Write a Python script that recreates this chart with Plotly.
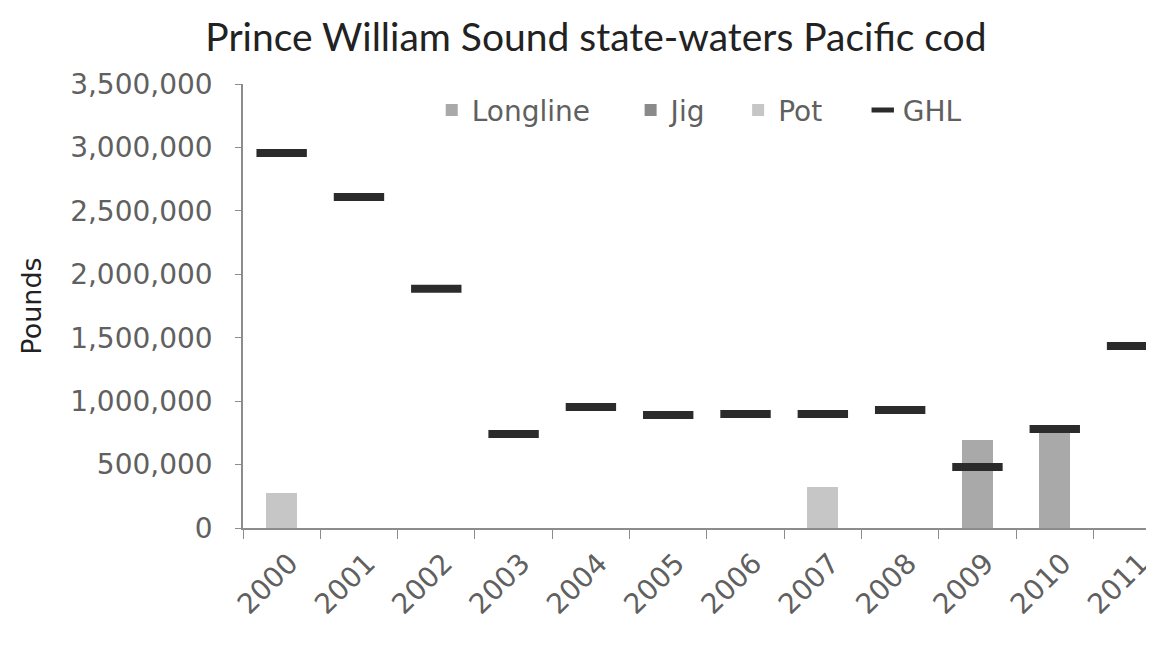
import plotly.graph_objects as go

years = ["2000", "2001", "2002", "2003", "2004", "2005", "2006", "2007", "2008", "2009", "2010", "2011"]
longline = [0, 0, 0, 0, 0, 0, 0, 0, 0, 694000, 765000, 0]
jig = [0, 0, 0, 0, 0, 0, 0, 0, 0, 0, 0, 0]
pot = [276000, 0, 0, 0, 0, 0, 0, 323000, 0, 0, 0, 0]
ghl = [2957000, 2610000, 1885000, 741000, 954000, 891000, 899000, 899000, 931000, 481000, 781000, 1435000]

tick_font = dict(family="DejaVu Sans", size=28, color="#606060")
nb = "\u00a0"

fig = go.Figure()
fig.add_trace(go.Bar(x=years, y=longline, name="Longline" + nb * 4, marker=dict(color="#a9a9a9", line=dict(width=0)), width=0.4))
fig.add_trace(go.Bar(x=years, y=jig, name="Jig" + nb * 3, marker=dict(color="#8a8a8a", line=dict(width=0)), width=0.4))
fig.add_trace(go.Bar(x=years, y=pot, name="Pot" + nb * 4, marker=dict(color="#c6c6c6", line=dict(width=0)), width=0.4))
fig.add_trace(go.Scatter(x=years, y=ghl, name="GHL", mode="markers", cliponaxis=False,
                         marker=dict(symbol="line-ew", size=36, color="#2b2b2b",
                                     line=dict(width=8, color="#2b2b2b"))))

fig.update_layout(
    width=1154, height=646,
    margin=dict(l=235, r=16, t=76, b=126, autoexpand=False),
    paper_bgcolor="white", plot_bgcolor="white",
    barmode="stack",
    showlegend=True,
    title=dict(text="Prince William Sound state-waters Pacific cod",
               font=dict(family="Lato", size=39, color="#222222"),
               x=0.5095, xref="container", xanchor="center",
               y=0.955, yref="container", yanchor="middle"),
    legend=dict(orientation="h", traceorder="normal", x=0.209, xanchor="left", y=0.941, yanchor="middle",
                font=tick_font, bgcolor="rgba(0,0,0,0)", itemwidth=30),
    xaxis=dict(range=[-0.5, 11.18], type="category", showline=True, linecolor="#8c8c8c", linewidth=1.5,
               ticks="outside", tickson="boundaries", ticklen=9, tickcolor="#8c8c8c", automargin=False,
               tickangle=-45, tickfont=tick_font, showgrid=False, zeroline=False,
               ticklabelshift=8, ticklabelstandoff=6),
    yaxis=dict(range=[0, 3500000], showline=True, linecolor="#8c8c8c", linewidth=1.5, automargin=False,
               ticks="outside", ticklen=6, tickcolor="#8c8c8c", tickformat=",", dtick=500000,
               tickfont=tick_font, showgrid=False, zeroline=False, ticklabelstandoff=17,
               title=dict(text="Pounds", font=dict(family="DejaVu Sans", size=27, color="#222222"), standoff=21)),
)

fig.write_html("out.html")
